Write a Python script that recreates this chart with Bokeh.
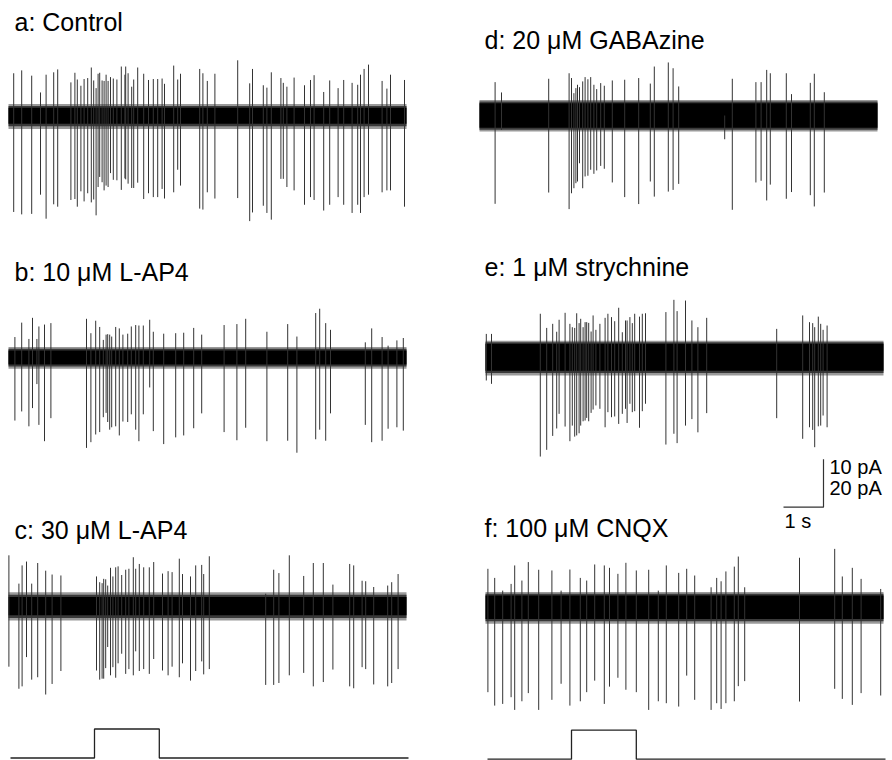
from bokeh.plotting import figure
from bokeh.models import Range1d, Label, ColumnDataSource
from bokeh.layouts import row
from bokeh.embed import file_html
from bokeh.resources import INLINE

FONT = "Liberation Sans"

# ---------------------------------------------------------------- data
# spike times (s), upward peak (pA) and downward peak magnitude (pA)
a_title = "a: Control"
a_t = [0.13, 0.33, 0.58, 0.80, 0.94, 1.13, 1.23, 1.56, 1.66, 1.72,
       1.81, 1.89, 1.98, 2.07, 2.13, 2.19, 2.24, 2.28, 2.34, 2.39,
       2.44, 2.49, 2.55, 2.62, 2.71, 2.82, 2.91, 2.93, 2.99, 3.08,
       3.13, 3.23, 3.38, 3.50, 3.62, 3.73, 3.84, 3.90, 4.13, 4.23,
       4.30, 4.78, 4.86, 4.97, 5.16, 5.73, 6.03, 6.10, 6.37, 6.46,
       6.57, 6.81, 6.87, 6.96, 7.14, 7.40, 7.55, 7.64, 7.88, 8.03,
       8.24, 8.38, 8.59, 8.73, 8.80, 8.89, 9.00, 9.34, 9.46, 9.55, 9.90]
a_up = [8.8, 9.4, 8.3, 4.8, 8.5, 9.0, 9.6, 6.9, 8.9, 7.5,
        6.2, 7.6, 7.8, 10.0, 7.3, 5.7, 8.7, 8.9, 7.3, 7.2,
        8.5, 7.2, 8.0, 7.7, 7.5, 10.2, 8.5, 10.2, 8.8, 6.0,
        7.5, 10.0, 8.7, 7.4, 7.6, 7.6, 7.7, 6.6, 10.4, 7.5,
        8.7, 9.7, 8.8, 7.2, 8.7, 11.5, 6.7, 9.7, 6.3, 5.8,
        9.0, 7.8, 6.8, 6.0, 7.9, 6.3, 7.4, 8.4, 4.9, 7.3,
        5.7, 7.4, 6.8, 6.4, 8.5, 9.7, 10.6, 7.2, 5.6, 8.5, 7.4]
a_dn = [20.1, 20.6, 20.5, 16.5, 21.5, 18.5, 19.0, 17.6, 17.4, 19.0,
        15.8, 17.9, 16.2, 18.1, 17.5, 20.8, 14.9, 12.8, 13.9, 15.6,
        14.6, 14.9, 12.0, 13.4, 13.5, 15.5, 13.1, 13.3, 14.2, 15.1,
        15.1, 14.0, 17.4, 16.2, 17.0, 17.0, 15.3, 17.3, 16.0, 11.3,
        14.6, 19.4, 19.6, 16.0, 17.3, 17.2, 22.0, 20.2, 18.8, 20.3,
        21.7, 13.2, 13.2, 14.9, 15.6, 18.6, 17.0, 17.6, 19.8, 18.6,
        17.0, 18.6, 20.3, 18.6, 20.3, 17.0, 16.5, 16.0, 15.6, 15.6, 19.0]
a_noise_outer = [2.4, 2.8]
a_noise_core = [1.6, 1.7]

b_title = "b: 10 \u03bcM L-AP4"
b_t = [0.16, 0.33, 0.51, 0.60, 0.71, 0.76, 0.90, 1.06,
       1.95, 2.06, 2.18, 2.28, 2.37, 2.44, 2.48, 2.53, 2.58, 2.68,
       2.77, 2.86, 2.98, 3.07, 3.18, 3.26, 3.37, 3.53, 3.62, 3.88,
       4.18, 4.38, 4.63, 4.83, 5.39, 5.71, 5.93, 6.46, 6.98, 7.21,
       7.68, 7.78, 7.93, 8.05, 8.92, 9.08, 9.34, 9.49, 9.71, 9.87]
b_up = [4.2, 7.2, 3.8, 8.2, 3.8, 6.4, 6.8, 7.1,
        8.0, 5.0, 7.6, 6.3, 3.6, 4.7, 4.8, 4.7, 4.3, 6.3,
        6.0, 4.7, 4.9, 6.4, 6.7, 6.6, 6.6, 7.8, 5.3, 4.9,
        5.0, 5.1, 6.1, 4.7, 6.7, 6.9, 8.0, 5.3, 6.9, 4.3,
        9.2, 10.1, 7.1, 5.7, 3.1, 6.0, 4.2, 2.4, 3.5, 4.0]
b_dn = [13.2, 11.3, 14.4, 10.6, 5.6, 14.1, 17.5, 12.7,
        18.9, 17.7, 16.1, 15.6, 12.5, 11.6, 13.5, 15.1, 14.6, 14.4,
        16.3, 13.4, 13.5, 11.9, 15.1, 17.5, 11.9, 6.3, 15.4, 18.1,
        16.7, 16.3, 14.8, 11.7, 15.6, 17.3, 14.7, 17.5, 17.4, 19.9,
        17.1, 15.1, 17.4, 11.7, 14.1, 17.7, 17.4, 14.9, 14.6, 15.3]
b_noise_outer = [2.1, 2.4]
b_noise_core = [1.4, 1.5]

c_title = "c: 30 \u03bcM L-AP4"
c_t = [0.01, 0.26, 0.34, 0.45, 0.58, 0.73, 0.93, 1.09, 1.31,
       2.20, 2.28, 2.34, 2.38, 2.43, 2.48, 2.55, 2.61, 2.68, 2.74, 2.83,
       2.93, 3.01, 3.12, 3.18, 3.27, 3.38, 3.52, 3.63, 3.85, 3.99,
       4.09, 4.27, 4.35, 4.55, 4.68, 4.83, 4.88, 5.02,
       6.43, 6.63, 6.76, 7.02, 7.38, 7.62, 7.87, 8.11,
       8.53, 8.63, 8.84, 8.93, 9.13, 9.48, 9.58, 9.74]
c_up = [10.6, 4.7, 8.5, 9.3, 4.7, 9.0, 7.4, 6.6, 6.4,
        6.2, 5.0, 4.8, 5.7, 5.6, 4.3, 8.0, 6.2, 8.1, 8.3, 6.5,
        7.6, 7.8, 10.2, 7.8, 8.8, 8.1, 8.1, 9.2, 6.8, 7.3,
        7.1, 9.9, 6.7, 6.2, 8.5, 8.6, 6.7, 10.4,
        2.6, 7.6, 6.9, 10.6, 6.3, 9.0, 9.0, 4.5,
        8.8, 8.5, 5.3, 5.2, 4.0, 4.3, 5.0, 6.7]
c_dn = [12.6, 17.2, 16.7, 10.6, 15.3, 14.8, 18.4, 16.2, 13.5,
        13.4, 15.3, 15.1, 15.1, 12.9, 8.5, 14.4, 12.7, 14.9, 11.9, 9.9,
        14.1, 13.1, 14.4, 9.4, 13.5, 13.1, 14.1, 11.0, 13.4, 14.4,
        12.6, 14.8, 11.9, 15.5, 13.5, 11.5, 14.2, 13.1,
        16.4, 16.4, 16.0, 14.4, 13.9, 16.7, 15.8, 13.2,
        16.7, 17.1, 12.7, 13.1, 16.3, 16.7, 16.0, 13.1]
c_noise_outer = [2.9, 3.0]
c_noise_core = [1.9, 1.9]

d_title = "d: 20 \u03bcM GABAzine"
d_t = [0.39, 0.55, 1.73,
       2.24, 2.30, 2.36, 2.41, 2.45, 2.50, 2.58, 2.64, 2.71, 2.78,
       2.86, 2.93, 3.03, 3.12, 3.32, 3.63, 3.98, 4.27, 4.37, 4.72,
       4.84, 4.98, 6.13, 6.32, 6.91, 7.04, 7.18, 7.27, 7.67, 7.80,
       8.27, 8.37, 8.62]
d_up = [13.9, 9.6, 15.3,
        17.6, 15.6, 9.3, 11.4, 12.8, 11.8, 14.2, 16.0, 15.1, 16.0,
        12.8, 11.0, 13.5, 12.4, 14.6, 14.9, 15.6, 13.3, 20.4, 22.1,
        19.7, 12.1, 0.0, 15.3, 13.9, 13.9, 19.0, 17.6, 17.6, 8.9,
        13.6, 17.4, 9.7]
d_dn = [36.8, 6.0, 32.1,
        39.0, 32.4, 30.3, 28.2, 27.5, 19.9, 30.3, 25.4, 25.1, 22.6,
        24.3, 22.9, 21.0, 22.2, 27.9, 34.0, 36.9, 27.5, 33.8, 31.7,
        31.0, 28.5, 9.9, 39.3, 27.9, 27.2, 35.4, 28.8, 34.7, 31.9,
        33.2, 37.9, 32.1]
d_noise_outer = [6.5, 6.7]
d_noise_core = [5.1, 5.1]

e_title = "e: 1 \u03bcM strychnine"
e_t = [0.02, 0.15,
       1.37, 1.53, 1.68, 1.78, 1.84, 1.99, 2.11, 2.17, 2.23, 2.28,
       2.34, 2.38, 2.44, 2.49, 2.53, 2.58, 2.64, 2.69, 2.76, 2.86,
       2.99, 3.06, 3.15, 3.23, 3.33, 3.42, 3.50, 3.54, 3.61, 3.67,
       3.73, 3.85, 3.92, 4.00, 4.51, 4.71, 4.79, 5.00, 5.16, 5.31,
       5.53, 7.28, 7.93, 8.10, 8.18, 8.23, 8.32, 8.38, 8.44, 8.54]
e_up = [9.7, 9.7,
        18.1, 12.2, 13.9, 10.6, 15.6, 18.5, 13.9, 12.5, 12.2, 18.3,
        14.2, 16.0, 12.5, 14.6, 14.6, 14.3, 10.7, 17.4, 11.4, 13.9,
        16.4, 18.1, 16.7, 15.0, 20.6, 10.4, 15.3, 15.3, 16.7, 14.2,
        18.1, 16.9, 18.1, 18.3, 18.8, 23.9, 19.2, 23.6, 15.3, 12.5,
        16.4, 11.8, 17.4, 14.6, 14.2, 12.5, 16.9, 13.9, 11.4, 13.2]
e_dn = [9.7, 11.1,
        41.4, 38.6, 32.8, 29.7, 23.6, 28.9, 35.0, 28.5, 33.1, 32.6,
        31.7, 28.5, 26.7, 26.4, 25.3, 26.7, 23.2, 21.8, 20.1, 21.5,
        29.2, 22.9, 25.0, 24.7, 27.8, 23.6, 21.5, 27.4, 19.4, 22.9,
        22.5, 29.4, 22.5, 19.4, 36.4, 31.9, 35.8, 28.5, 25.8, 31.3,
        23.3, 25.4, 34.0, 29.2, 30.3, 37.5, 28.8, 28.5, 24.3, 29.2]
e_noise_outer = [6.9, 7.6]
e_noise_core = [5.6, 5.6]

f_title = "f: 100 \u03bcM CNQX"
f_t = [0.06, 0.23, 0.43, 0.64, 0.73, 0.91, 1.07, 1.33, 1.66, 1.89,
       2.11, 2.37, 2.53, 2.73, 2.97, 3.10, 3.31, 3.51, 3.77, 4.08,
       4.32, 4.52, 4.83, 5.03, 5.23, 5.64, 5.78, 5.89, 6.01, 6.22,
       6.32, 6.48, 7.85, 8.73, 8.92, 9.17, 9.39, 9.88]
f_up = [16.0, 12.2, 6.9, 9.7, 17.4, 11.1, 18.8, 15.6, 15.3, 6.9,
        15.7, 12.2, 11.1, 17.8, 17.4, 16.4, 13.9, 18.5, 15.3, 15.6,
        6.9, 17.4, 14.3, 16.0, 13.2, 8.3, 12.2, 10.8, 14.9, 16.9,
        21.1, 8.3, 20.6, 24.3, 12.8, 16.4, 11.8, 7.6]
f_dn = [35.4, 41.0, 40.3, 37.5, 42.8, 39.2, 35.8, 42.8, 38.6, 31.9,
        41.0, 39.2, 35.4, 30.6, 40.3, 33.1, 29.4, 34.4, 35.4, 42.8,
        39.2, 40.0, 41.4, 28.5, 38.6, 42.8, 40.0, 42.4, 40.0, 39.2,
        32.9, 30.8, 39.3, 34.0, 38.2, 40.7, 35.8, 36.8]
f_noise_outer = [6.3, 6.9]
f_noise_core = [4.9, 4.9]

trace_duration = [0.0, 9.95]          # s
stim_t = [0.05, 2.15, 2.15, 3.77, 3.77, 10.0]   # light step timing (s)
stim_level = [0, 0, 1, 1, 0, 0]
scale_time = 1.0                       # s
scale_amp_left = 10                    # pA
scale_amp_right = 20                   # pA
scale_labels = ["10 pA", "20 pA", "1 s"]

# ---------------------------------------------------------------- layout
W, H = 446, 760
PX_PER_S = 40.0
TEXT_LIFT = 10.0   # px correction for label baseline placement


def make_column(traces, k, t0px, stim_px, title_x_px):
    p = figure(width=W, height=H, output_backend="svg", toolbar_location=None,
               x_axis_location=None, y_axis_location=None,
               min_border=0, min_border_left=0, min_border_right=0,
               min_border_top=0, min_border_bottom=0)
    p.x_range = Range1d(-t0px / PX_PER_S, (W - t0px) / PX_PER_S)
    p.y_range = Range1d(-H / k, 0)
    p.outline_line_color = None
    p.xgrid.visible = False
    p.ygrid.visible = False
    p.background_fill_color = "white"
    p.border_fill_color = "white"

    for tr in traces:
        off = -tr["yc"] / k
        dx = tr.get("dx", 0.0)
        t_a, t_b = trace_duration[0] + dx, trace_duration[1] + dx
        o_up, o_dn = tr["outer"]
        c_up, c_dn = tr["core"]
        m_up, m_dn = (o_up + c_up) / 2, (o_dn + c_dn) / 2
        # noise band: light fringe, dark fringe, black core
        p.varea(x=[t_a, t_b], y1=[off - o_dn] * 2, y2=[off + o_up] * 2,
                fill_color="#9a9a9a")
        p.varea(x=[t_a, t_b], y1=[off - m_dn] * 2, y2=[off + m_up] * 2,
                fill_color="#3a3a3a")
        p.varea(x=[t_a, t_b], y1=[off - c_dn] * 2, y2=[off + c_up] * 2,
                fill_color="black")
        xs, hi, lo = [], [], []
        for t, u, d in zip(tr["t"], tr["up"], tr["dn"]):
            xs.append(t + dx)
            hi.append(off + u)
            lo.append(off - d)
        src = ColumnDataSource(dict(x=xs, hi=hi, lo=lo))
        p.segment(x0="x", y0="hi", x1="x", y1="lo", source=src,
                  line_color="#333333", line_width=1)
        p.add_layout(Label(x=(title_x_px - t0px) / PX_PER_S,
                           y=-(tr["tb"] - TEXT_LIFT) / k,
                           text=tr["title"], text_font=FONT,
                           text_font_size="25px", text_color="black",
                           text_baseline="alphabetic", text_align="left"))

    base_px, high_px = stim_px
    sy = [-base_px / k + lv * (base_px - high_px) / k for lv in stim_level]
    p.line(x=stim_t, y=sy, line_color="#222222", line_width=1.3)
    return p


left_traces = [
    dict(title=a_title, t=a_t, up=a_up, dn=a_dn, outer=a_noise_outer, core=a_noise_core, yc=115.0, tb=31.0),
    dict(title=b_title, t=b_t, up=b_up, dn=b_dn, outer=b_noise_outer, core=b_noise_core, yc=356.7, tb=281.0),
    dict(title=c_title, t=c_t, up=c_up, dn=c_dn, outer=c_noise_outer, core=c_noise_core, yc=605.7, tb=539.0),
]
right_traces = [
    dict(title=d_title, t=d_t, up=d_up, dn=d_dn, outer=d_noise_outer, core=d_noise_core, yc=115.0, tb=49.0, dx=-0.15),
    dict(title=e_title, t=e_t, up=e_up, dn=e_dn, outer=e_noise_outer, core=e_noise_core, yc=356.7, tb=276.0),
    dict(title=f_title, t=f_t, up=f_up, dn=f_dn, outer=f_noise_outer, core=f_noise_core, yc=606.7, tb=537.0),
]

kL, kR = 4.8, 2.4
pL = make_column(left_traces, kL, 8.0, (757.5, 728.5), 14.0)
pR = make_column(right_traces, kR, 39.0, (758.7, 729.7), 484.0 - 446.0)

# scale bar (right column units: 20 pA, 1 s)
sb_x1 = 8.45
sb_x0 = sb_x1 - scale_time
sb_y = -506.7 / kR
pR.line(x=[sb_x0, sb_x1, sb_x1], y=[sb_y, sb_y, sb_y + scale_amp_right],
        line_color="#333333", line_width=1.2)
for txt, xpx, ypx in zip(scale_labels, [829.0, 829.0, 784.0], [476.0, 497.0, 530.0]):
    pR.add_layout(Label(x=(xpx - 446.0 - 39.0) / PX_PER_S, y=-(ypx - TEXT_LIFT) / kR,
                        text=txt, text_font=FONT, text_font_size="20px",
                        text_color="black", text_baseline="alphabetic",
                        text_align="left"))

layout = row(pL, pR, spacing=0)
open("out.html", "w").write(file_html(layout, INLINE))
